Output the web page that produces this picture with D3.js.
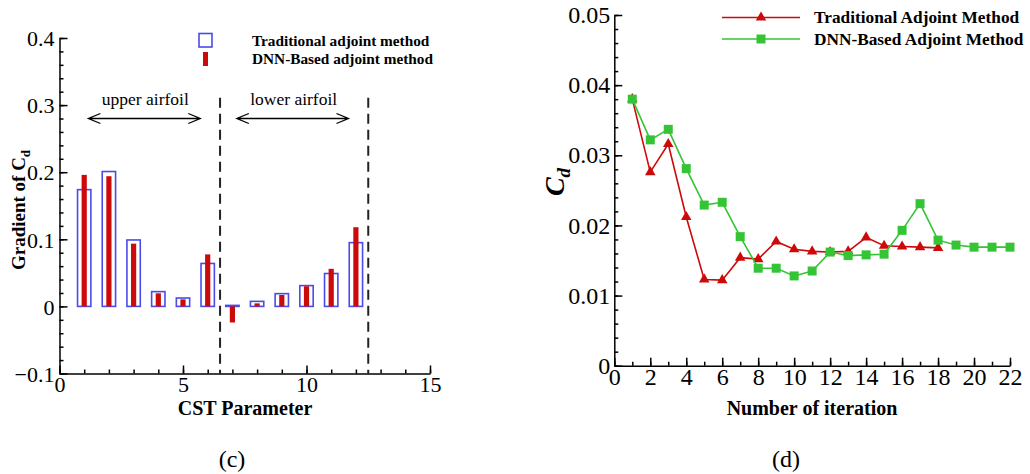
<!DOCTYPE html>
<html>
<head>
<meta charset="utf-8">
<script src="https://cdn.jsdelivr.net/npm/d3@7"></script>
<style>
  body { margin: 0; background: #fff; }
  svg text { font-family: "Liberation Serif", "Times New Roman", serif; fill: #000; }
</style>
</head>
<body>
<div id="fig"></div>
<script>
////////////////////////////////////////////////////////////////////////
// Data

// (c) gradient of Cd for each CST parameter
let cstParams = [1, 2, 3, 4, 5, 6, 7, 8, 9, 10, 11, 12];
let gradTraditional = [0.174, 0.201, 0.099, 0.022, 0.0125, 0.064, 0.0015, 0.0075, 0.019, 0.031, 0.049, 0.095];
let gradDNN = [0.196, 0.194, 0.0935, 0.0195, 0.0105, 0.0775, -0.024, 0.0045, 0.017, 0.030, 0.056, 0.118];
let leftXTicks = [0, 5, 10, 15];
let leftYTicks = [-0.1, 0, 0.1, 0.2, 0.3, 0.4];

// (d) Cd history per optimisation iteration
let iterTraditional = [1, 2, 3, 4, 5, 6, 7, 8, 9, 10, 11, 12, 13, 14, 15, 16, 17, 18];
let cdTraditional = [0.0380, 0.0276, 0.0316, 0.0212, 0.0123, 0.0122, 0.0154, 0.0152, 0.0177, 0.0166, 0.0163,
  0.0162, 0.0163, 0.0183, 0.0171, 0.0170, 0.0169, 0.0168];
let iterDNN = [1, 2, 3, 4, 5, 6, 7, 8, 9, 10, 11, 12, 13, 14, 15, 16, 17, 18, 19, 20, 21, 22];
let cdDNN = [0.0380, 0.0322, 0.0337, 0.0281, 0.0229, 0.0233, 0.0184, 0.0139, 0.0139, 0.0128, 0.0135,
  0.0162, 0.0157, 0.0158, 0.0159, 0.0193, 0.0231, 0.0179, 0.0172, 0.0169, 0.0169, 0.0169];
let rightXTicks = [0, 2, 4, 6, 8, 10, 12, 14, 16, 18, 20, 22];
let rightYTicks = [0, 0.01, 0.02, 0.03, 0.04, 0.05];

let blue = "#4b4bea";
let red = "#cc0a0a";
let green = "#35c435";

let svg = d3.select("#fig").append("svg")
  .attr("width", 1030)
  .attr("height", 474);

svg.append("rect").attr("width", 1030).attr("height", 474).attr("fill", "#fff");

// draws inward major + minor ticks along an axis
function drawAxis(g, axisFn, scale, major, minor, fmt, fontSize, pad) {
  g.append("g")
    .call(axisFn(scale).tickValues(minor).tickSize(-4).tickFormat(""))
    .call(a => a.select(".domain").remove());
  g.append("g")
    .call(axisFn(scale).tickValues(major).tickSize(-8).tickSizeOuter(0).tickPadding(pad).tickFormat(fmt))
    .call(a => a.selectAll("text")
      .style("font-family", "Liberation Serif")
      .style("font-size", fontSize + "px"));
  g.selectAll("line, path").attr("stroke", "#000").attr("stroke-width", 1.5);
}

////////////////////////////////////////////////////////////////////////
// Panel (c): bar comparison

function drawLeft() {
  let x = d3.scaleLinear().domain([0, 15]).range([59.5, 430]);
  let y = d3.scaleLinear().domain([-0.1, 0.4]).range([373.5, 38]);
  let g = svg.append("g");

  // dashed separators between upper and lower surfaces
  g.selectAll(".sep")
    .data([6.5, 12.5])
    .join("line")
    .attr("x1", d => x(d)).attr("x2", d => x(d))
    .attr("y1", y(0.311)).attr("y2", y(-0.1))
    .attr("stroke", "#222").attr("stroke-width", 2)
    .attr("stroke-dasharray", "10,6");

  // traditional: open blue boxes
  g.selectAll(".trad")
    .data(cstParams)
    .join("rect")
    .attr("x", d => x(d - 0.27))
    .attr("width", x(0.54) - x(0))
    .attr("y", (d, i) => y(Math.max(0, gradTraditional[i])))
    .attr("height", (d, i) => Math.abs(y(gradTraditional[i]) - y(0)))
    .attr("fill", "none")
    .attr("stroke", blue)
    .attr("stroke-width", 1.6);

  // DNN: thin red bars
  g.selectAll(".dnn")
    .data(cstParams)
    .join("rect")
    .attr("x", d => x(d) - 2.6)
    .attr("width", 5.2)
    .attr("y", (d, i) => y(Math.max(0, gradDNN[i])))
    .attr("height", (d, i) => Math.abs(y(gradDNN[i]) - y(0)))
    .attr("fill", red);

  // double arrows + region labels
  let regions = [
    { x0: 1.17, x1: 5.7, label: "upper airfoil" },
    { x0: 7.18, x1: 11.7, label: "lower airfoil" }
  ];
  regions.forEach(r => {
    let ya = y(0.28);
    let a = x(r.x0), b = x(r.x1);
    g.append("path")
      .attr("d", `M${a},${ya}H${b}M${a + 12},${ya - 5}L${a},${ya}L${a + 12},${ya + 5}` +
        `M${b - 12},${ya - 5}L${b},${ya}L${b - 12},${ya + 5}`)
      .attr("fill", "none").attr("stroke", "#000").attr("stroke-width", 1.3);
    g.append("text")
      .attr("x", (a + b) / 2 + 1)
      .attr("y", y(0.30))
      .attr("text-anchor", "middle")
      .style("font-size", "17.5px")
      .text(r.label);
  });

  let ax = g.append("g").attr("transform", `translate(0,${y(-0.1)})`);
  drawAxis(ax, d3.axisBottom, x, leftXTicks, d3.range(0, 16), d3.format("d"), 22, 3);

  let ay = g.append("g").attr("transform", `translate(${x(0)},0)`);
  drawAxis(ay, d3.axisLeft, y, leftYTicks, d3.range(-0.1, 0.401, 0.02), d => d === 0 ? "0" : d3.format(".1f")(d), 22, 5);
  ay.selectAll(".tick text").attr("dy", "0.35em");

  g.append("text")
    .attr("x", 245).attr("y", 415)
    .attr("text-anchor", "middle")
    .style("font-size", "20px").style("font-weight", "bold")
    .text("CST Parameter");

  g.append("text")
    .attr("transform", "translate(25,210) rotate(-90)")
    .attr("text-anchor", "middle")
    .style("font-size", "19px").style("font-weight", "bold")
    .text("Gradient of C")
    .append("tspan").attr("dy", 5).style("font-size", "13px").text("d");

  // legend
  g.append("rect").attr("x", 199).attr("y", 33.5).attr("width", 13).attr("height", 13.5)
    .attr("fill", "none").attr("stroke", blue).attr("stroke-width", 1.6);
  g.append("rect").attr("x", 203).attr("y", 52).attr("width", 5).attr("height", 14).attr("fill", red);
  g.append("text").attr("x", 252).attr("y", 46).style("font-size", "15.3px").style("font-weight", "bold")
    .text("Traditional adjoint method");
  g.append("text").attr("x", 252).attr("y", 64).style("font-size", "15.3px").style("font-weight", "bold")
    .text("DNN-Based adjoint method");
}

////////////////////////////////////////////////////////////////////////
// Panel (d): convergence history

function drawRight() {
  let x = d3.scaleLinear().domain([0, 22]).range([614.3, 1010]);
  let y = d3.scaleLinear().domain([0, 0.05]).range([365.7, 15]);
  let g = svg.append("g");

  let ax = g.append("g").attr("transform", `translate(0,${y(0)})`);
  drawAxis(ax, d3.axisBottom, x, rightXTicks, d3.range(0, 23), d3.format("d"), 24, 2);

  let ay = g.append("g").attr("transform", `translate(${x(0)},0)`);
  drawAxis(ay, d3.axisLeft, y, rightYTicks, d3.range(0, 0.0501, 0.002), d => d === 0 ? "0" : d3.format(".2f")(d), 24, 4);

  let line = d3.line().x(d => x(d[0])).y(d => y(d[1]));
  let series = [
    { it: iterTraditional, cd: cdTraditional, color: red, sym: d3.symbolTriangle, size: 48 },
    { it: iterDNN, cd: cdDNN, color: green, sym: d3.symbolSquare, size: 81 }
  ];
  series.forEach(s => {
    let pts = s.it.map((d, i) => [d, s.cd[i]]);
    g.append("path").datum(pts).attr("d", line)
      .attr("fill", "none").attr("stroke", s.color).attr("stroke-width", 1.6);
    g.selectAll(null).data(pts).join("path")
      .attr("transform", d => `translate(${x(d[0])},${y(d[1])})`)
      .attr("d", d3.symbol(s.sym, s.size))
      .attr("fill", s.color);
  });

  // legend
  let names = ["Traditional Adjoint Method", "DNN-Based Adjoint Method"];
  series.forEach((s, i) => {
    let ly = 17.5 + i * 21.5;
    g.append("line").attr("x1", 722).attr("x2", 800).attr("y1", ly).attr("y2", ly)
      .attr("stroke", s.color).attr("stroke-width", 1.6);
    g.append("path").attr("transform", `translate(761,${ly})`)
      .attr("d", d3.symbol(s.sym, s.size)).attr("fill", s.color);
    g.append("text").attr("x", 814).attr("y", ly + 5.5)
      .style("font-size", "17.3px").style("font-weight", "bold")
      .text(names[i]);
  });

  g.append("text")
    .attr("x", 812).attr("y", 415)
    .attr("text-anchor", "middle")
    .style("font-size", "20px").style("font-weight", "bold")
    .text("Number of iteration");

  g.append("text")
    .attr("transform", "translate(564,182) rotate(-90)")
    .attr("text-anchor", "middle")
    .style("font-size", "28px").style("font-weight", "bold").style("font-style", "italic")
    .text("C")
    .append("tspan").attr("dy", 6).style("font-size", "19px").text("d");
}

drawLeft();
drawRight();

// panel captions
svg.append("text").attr("x", 232).attr("y", 467).attr("text-anchor", "middle")
  .style("font-size", "24px").text("(c)");
svg.append("text").attr("x", 786).attr("y", 467).attr("text-anchor", "middle")
  .style("font-size", "24px").text("(d)");
</script>
</body>
</html>
